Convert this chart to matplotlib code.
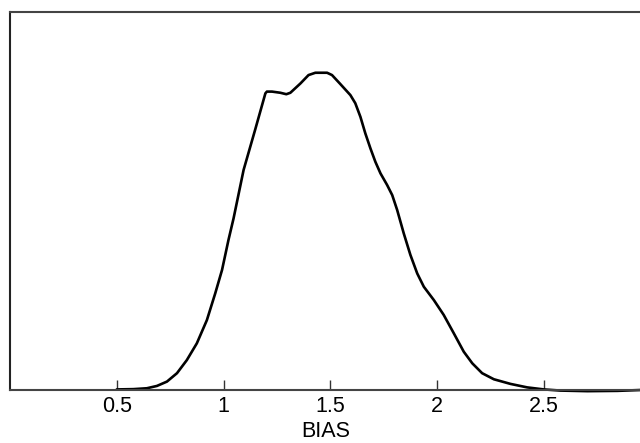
import matplotlib
matplotlib.use("Agg")
import matplotlib.pyplot as plt

# Density curve of BIAS
bias_x = [0.500, 0.578, 0.641, 0.688, 0.735, 0.782, 0.828, 0.875, 0.922, 0.961,
          0.993, 1.023, 1.047, 1.094, 1.149, 1.196, 1.203, 1.227, 1.266, 1.294,
          1.313, 1.360, 1.398, 1.430, 1.485, 1.508, 1.547, 1.594, 1.617, 1.641,
          1.664, 1.688, 1.711, 1.735, 1.766, 1.790, 1.813, 1.844, 1.875, 1.907,
          1.938, 1.985, 2.031, 2.078, 2.125, 2.165, 2.211, 2.266, 2.344, 2.422,
          2.500, 2.578, 2.704, 2.844, 2.954]
density = [0.002, 0.003, 0.006, 0.014, 0.029, 0.058, 0.103, 0.161, 0.241, 0.333,
           0.414, 0.517, 0.592, 0.759, 0.900, 1.023, 1.029, 1.029, 1.025, 1.020,
           1.025, 1.057, 1.086, 1.094, 1.094, 1.086, 1.055, 1.017, 0.989, 0.942,
           0.885, 0.833, 0.787, 0.747, 0.707, 0.672, 0.621, 0.540, 0.466, 0.402,
           0.356, 0.310, 0.259, 0.196, 0.132, 0.092, 0.058, 0.037, 0.021, 0.009,
           0.002, -0.002, -0.004, -0.003, 0.000]
xticks = [0.5, 1, 1.5, 2, 2.5]
xticklabels = ["0.5", "1", "1.5", "2", "2.5"]

plt.rcParams['font.family'] = ['Liberation Sans', 'DejaVu Sans']

fig = plt.figure(figsize=(6.4, 4.43), dpi=100)
ax = fig.add_axes([10/640, 1 - 390/443, 631/640, 378/443])

ax.plot(bias_x, density, color='black', lw=1.9, solid_joinstyle='round',
        solid_capstyle='round', clip_on=False)

ax.set_xlim(0, 2.955)
ax.set_ylim(0, 1.3035)
ax.set_xticks(xticks)
ax.set_xticklabels(xticklabels)
ax.set_yticks([])
ax.tick_params(axis='x', direction='in', length=7, width=1.0, color='#333333',
               labelsize=15.5, pad=4)
ax.set_xlabel("BIAS", fontsize=15.5, labelpad=3)

for side in ['left', 'top', 'bottom']:
    ax.spines[side].set_color('#444444')
    ax.spines[side].set_linewidth(1.5)
ax.spines['left'].set_color('#222222')
ax.spines['right'].set_visible(False)

fig.savefig("out.png", dpi=100)
